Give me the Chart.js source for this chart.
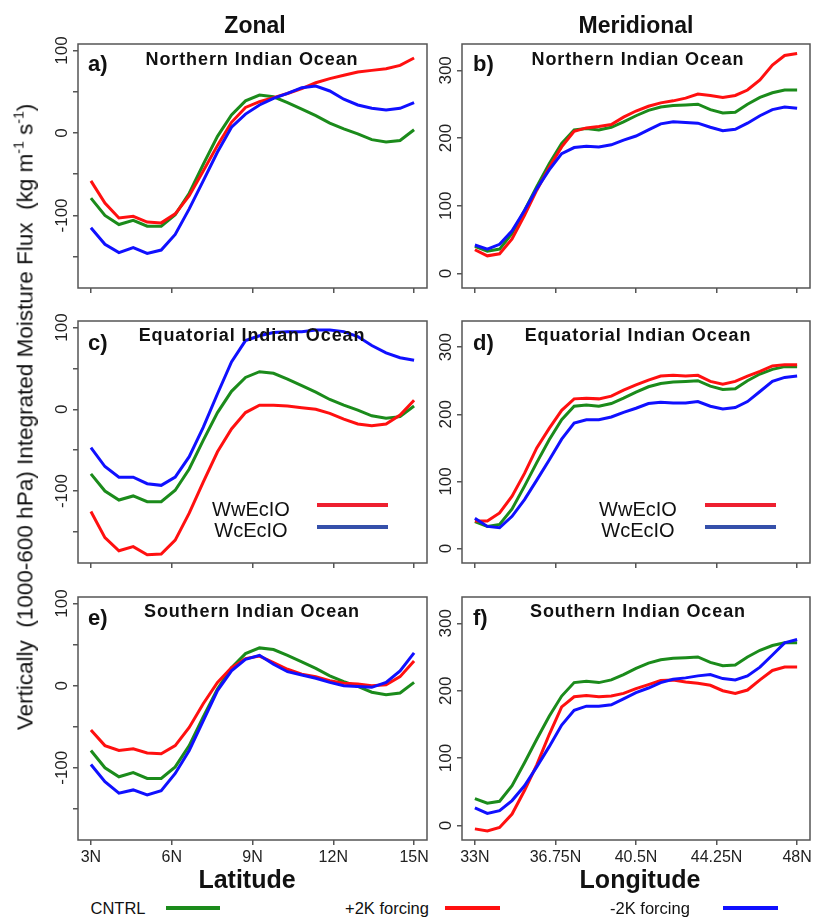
<!DOCTYPE html>
<html>
<head>
<meta charset="utf-8">
<script src="https://cdn.jsdelivr.net/npm/chart.js@4"></script>
<style>
  body { margin: 0; background: #fff; font-family: "Liberation Sans", Arial, sans-serif; color: #111; }
  #page { position: relative; width: 818px; height: 917px; overflow: hidden; }
  canvas { position: absolute; }
  .t { position: absolute; white-space: nowrap; transform: translate(-50%, -50%); line-height: 1; }
  .head { font-weight: bold; font-size: 23px; }
  .ptitle { font-weight: bold; font-size: 18px; letter-spacing: 0.9px; }
  .plab { position: absolute; font-weight: bold; font-size: 22px; line-height: 1; transform: translateY(-50%); }
  .leg { font-size: 20px; }
  .xname { font-weight: bold; font-size: 25px; }
  .bleg { font-size: 16.5px; }
  .ln { position: absolute; height: 4px; }
</style>
</head>
<body>
<div id="page">
  <canvas id="pa" width="405" height="278" style="left:30px;top:30px"></canvas>
  <canvas id="pb" width="398" height="278" style="left:420px;top:30px"></canvas>
  <canvas id="pc" width="405" height="278" style="left:30px;top:307px"></canvas>
  <canvas id="pd" width="398" height="278" style="left:420px;top:307px"></canvas>
  <canvas id="pe" width="405" height="288" style="left:30px;top:582px"></canvas>
  <canvas id="pf" width="398" height="288" style="left:420px;top:582px"></canvas>

  <div class="t head" style="left:255px;top:25px">Zonal</div>
  <div class="t head" style="left:636px;top:25px">Meridional</div>

  <div class="t ptitle" style="left:252px;top:59px">Northern Indian Ocean</div>
  <div class="t ptitle" style="left:638px;top:59px">Northern Indian Ocean</div>
  <div class="t ptitle" style="left:252px;top:335px">Equatorial Indian Ocean</div>
  <div class="t ptitle" style="left:638px;top:335px">Equatorial Indian Ocean</div>
  <div class="t ptitle" style="left:252px;top:611px">Southern Indian Ocean</div>
  <div class="t ptitle" style="left:638px;top:611px">Southern Indian Ocean</div>

  <div class="plab" style="left:88px;top:64px">a)</div>
  <div class="plab" style="left:473px;top:64px">b)</div>
  <div class="plab" style="left:88px;top:343px">c)</div>
  <div class="plab" style="left:473px;top:343px">d)</div>
  <div class="plab" style="left:88px;top:618px">e)</div>
  <div class="plab" style="left:473px;top:618px">f)</div>

  <div class="t leg" style="left:251px;top:509px">WwEcIO</div>
  <div class="t leg" style="left:251px;top:530px">WcEcIO</div>
  <div class="ln" style="left:317px;top:503px;width:71px;background:#ee2030"></div>
  <div class="ln" style="left:317px;top:525px;width:71px;background:#3550aa"></div>
  <div class="t leg" style="left:638px;top:509px">WwEcIO</div>
  <div class="t leg" style="left:638px;top:530px">WcEcIO</div>
  <div class="ln" style="left:705px;top:503px;width:71px;background:#ee2030"></div>
  <div class="ln" style="left:705px;top:525px;width:71px;background:#3550aa"></div>

  <div class="t" style="left:24px;top:417px;font-size:22.5px;transform:translate(-50%,-50%) rotate(-90deg)">Vertically&nbsp; (1000-600 hPa) Integrated Moisture Flux&nbsp; (kg m<sup style="font-size:14px">-1</sup> s<sup style="font-size:14px">-1</sup>)</div>

  <div class="t xname" style="left:247px;top:879px">Latitude</div>
  <div class="t xname" style="left:640px;top:879px">Longitude</div>

  <div class="t bleg" style="left:118px;top:908px">CNTRL</div>
  <div class="ln" style="left:166px;top:906px;width:54px;background:#1b8b1b"></div>
  <div class="t bleg" style="left:387px;top:908px">+2K forcing</div>
  <div class="ln" style="left:445px;top:906px;width:55px;background:#ff1010"></div>
  <div class="t bleg" style="left:650px;top:908px">-2K forcing</div>
  <div class="ln" style="left:723px;top:906px;width:55px;background:#1010ff"></div>
</div>

<script>
// grid positions (deg N)
const latitudes = [3.0, 3.52, 4.04, 4.57, 5.09, 5.61, 6.13, 6.65, 7.17, 7.70, 8.22, 8.74,
                   9.26, 9.78, 10.30, 10.83, 11.35, 11.87, 12.39, 12.91, 13.43, 13.96, 14.48, 15.0];
const longitudes = [33.0, 33.58, 34.15, 34.73, 35.31, 35.88, 36.46, 37.04, 37.62, 38.19, 38.77, 39.35, 39.92,
                    40.50, 41.08, 41.65, 42.23, 42.81, 43.38, 43.96, 44.54, 45.12, 45.69, 46.27, 46.85, 47.42, 48.0];

// tick labels
const latTicks = [3, 6, 9, 12, 15];
const latTickLabels = ['3N', '6N', '9N', '12N', '15N'];
const lonTicks = [33, 36.75, 40.5, 44.25, 48];
const lonTickLabels = ['33N', '36.75N', '40.5N', '44.25N', '48N'];
const zonalTicks = [-150, -100, -50, 0, 50, 100];
const zonalTickLabels = ['', '-100', '', '0', '', '100'];
const meridTicks = [0, 100, 200, 300];
const meridTickLabels = ['0', '100', '200', '300'];

// CNTRL is the same in every row
const cntrlZonal = [-79, -100, -111, -106, -113, -113, -99, -73, -38, -4, 22, 39, 46, 44, 37, 29, 21, 12, 5, -1, -8, -11, -9, 4];
const cntrlMerid = [40, 33, 36, 59, 93, 128, 162, 192, 212, 214, 212, 216, 224, 233, 241, 246, 248, 249, 250, 242, 237, 238, 250, 260, 267, 271, 271];

// +2K forcing
const warmNorthZonal = [-58, -85, -103, -101, -108, -109, -98, -76, -46, -15, 13, 31, 38, 43, 48, 54, 61, 66, 70, 74, 76, 78, 82, 91];
const warmEqZonal = [-125, -157, -173, -168, -178, -177, -160, -127, -89, -52, -24, -4, 5, 5, 4, 2, 0, -5, -12, -18, -20, -18, -7, 11];
const warmSouthZonal = [-54, -73, -79, -77, -82, -83, -73, -51, -22, 4, 22, 33, 36, 28, 20, 14, 11, 6, 3, 2, 0, 1, 11, 30];
const warmNorthMerid = [35, 26, 29, 51, 86, 123, 157, 187, 210, 215, 217, 220, 231, 240, 247, 252, 255, 259, 265, 263, 260, 263, 271, 286, 308, 322, 325];
const warmEqMerid = [41, 41, 53, 78, 112, 150, 179, 206, 223, 224, 223, 227, 236, 244, 251, 257, 258, 257, 258, 249, 245, 249, 257, 264, 272, 274, 274];
const warmSouthMerid = [-5, -8, -3, 17, 52, 90, 135, 176, 191, 193, 191, 192, 196, 203, 209, 215, 216, 213, 211, 208, 200, 196, 201, 216, 230, 235, 235];

// -2K forcing
const coldNorthZonal = [-115, -135, -145, -139, -146, -142, -123, -92, -58, -23, 7, 23, 34, 42, 48, 55, 57, 51, 41, 34, 30, 28, 30, 37];
const coldEqZonal = [-47, -70, -83, -83, -91, -93, -83, -58, -22, 19, 58, 84, 90, 94, 95, 95, 97, 97, 95, 89, 78, 69, 63, 60];
const coldSouthZonal = [-96, -117, -131, -127, -133, -128, -107, -79, -43, -6, 18, 32, 37, 26, 17, 13, 9, 4, 0, -1, -2, 4, 18, 40];
const coldNorthMerid = [42, 36, 43, 63, 93, 125, 153, 177, 186, 188, 187, 190, 197, 203, 212, 221, 224, 223, 222, 216, 211, 213, 222, 233, 242, 246, 244];
const coldEqMerid = [45, 33, 31, 48, 73, 102, 132, 163, 187, 192, 192, 196, 203, 209, 216, 218, 217, 217, 219, 212, 208, 210, 219, 234, 249, 255, 257];
const coldSouthMerid = [26, 18, 22, 37, 59, 87, 117, 149, 171, 177, 177, 179, 188, 197, 204, 212, 217, 219, 222, 224, 218, 216, 222, 235, 253, 271, 276];

const GREEN = '#1b8b1b', RED = '#ff1010', BLUE = '#1010ff';

const boxPlugin = {
    id: 'box',
    afterDatasetsDraw(chart) {
        const { ctx, chartArea: a } = chart;
        ctx.save();
        ctx.strokeStyle = '#555';
        ctx.lineWidth = 1.5;
        ctx.strokeRect(a.left, a.top, a.right - a.left, a.bottom - a.top);
        ctx.restore();
    }
};

function pairs(xs, ys) {
    return ys.map((y, i) => ({ x: xs[i], y: y }));
}

function makePanel(id, opt) {
    const xs = opt.zonal ? latitudes : longitudes;
    const datasets = [
        { data: pairs(xs, opt.cntrl), borderColor: GREEN, order: 2 },
        { data: pairs(xs, opt.warm), borderColor: RED, order: 1 },
        { data: pairs(xs, opt.cold), borderColor: BLUE, order: 0 }
    ];
    datasets.forEach(d => { d.borderWidth = 3; d.pointRadius = 0; d.tension = 0; d.fill = false; });

    const xTicks = opt.zonal ? latTicks : lonTicks;
    const xLabels = opt.zonal ? latTickLabels : lonTickLabels;
    const yTicks = opt.zonal ? zonalTicks : meridTicks;
    const yLabels = opt.zonal ? zonalTickLabels : meridTickLabels;

    return new Chart(document.getElementById(id), {
        type: 'line',
        data: { datasets: datasets },
        plugins: [boxPlugin],
        options: {
            responsive: false,
            animation: false,
            layout: { padding: { top: opt.padTop, right: 8, left: 0, bottom: 0 } },
            plugins: { legend: { display: false }, tooltip: { enabled: false } },
            scales: {
                x: {
                    type: 'linear',
                    min: opt.zonal ? 2.52 : 32.4,
                    max: opt.zonal ? 15.48 : 48.6,
                    afterBuildTicks: s => { s.ticks = xTicks.map(v => ({ value: v })); },
                    afterFit: s => { s.height = opt.xHeight; },
                    border: { display: false },
                    grid: { drawOnChartArea: false, drawTicks: true, tickLength: 5, color: '#555', lineWidth: 1.5 },
                    ticks: {
                        display: opt.xLabels,
                        autoSkip: false, maxRotation: 0, padding: 3,
                        color: '#222', font: { family: 'Liberation Sans', size: 16 },
                        callback: v => xLabels[xTicks.indexOf(v)]
                    }
                },
                y: {
                    min: opt.zonal ? -188 : -21.5,
                    max: opt.zonal ? 108 : 339,
                    afterBuildTicks: s => { s.ticks = yTicks.map(v => ({ value: v })); },
                    afterFit: s => { s.width = opt.yWidth; },
                    border: { display: false },
                    grid: { drawOnChartArea: false, drawTicks: true, tickLength: 5, color: '#555', lineWidth: 1.5 },
                    ticks: {
                        minRotation: 90, maxRotation: 90, crossAlign: 'center',
                        padding: opt.zonal ? -6 : -3.2,
                        color: '#222', font: { family: 'Liberation Sans', size: 17 },
                        callback: v => yLabels[yTicks.indexOf(v)]
                    }
                }
            }
        }
    });
}

makePanel('pa', { zonal: true, cntrl: cntrlZonal, warm: warmNorthZonal, cold: coldNorthZonal, padTop: 14, xHeight: 20, yWidth: 48, xLabels: false });
makePanel('pb', { zonal: false, cntrl: cntrlMerid, warm: warmNorthMerid, cold: coldNorthMerid, padTop: 14, xHeight: 20, yWidth: 42, xLabels: false });
makePanel('pc', { zonal: true, cntrl: cntrlZonal, warm: warmEqZonal, cold: coldEqZonal, padTop: 14, xHeight: 22, yWidth: 48, xLabels: false });
makePanel('pd', { zonal: false, cntrl: cntrlMerid, warm: warmEqMerid, cold: coldEqMerid, padTop: 14, xHeight: 22, yWidth: 42, xLabels: false });
makePanel('pe', { zonal: true, cntrl: cntrlZonal, warm: warmSouthZonal, cold: coldSouthZonal, padTop: 15, xHeight: 30, yWidth: 48, xLabels: true });
makePanel('pf', { zonal: false, cntrl: cntrlMerid, warm: warmSouthMerid, cold: coldSouthMerid, padTop: 15, xHeight: 30, yWidth: 42, xLabels: true });
</script>
</body>
</html>
